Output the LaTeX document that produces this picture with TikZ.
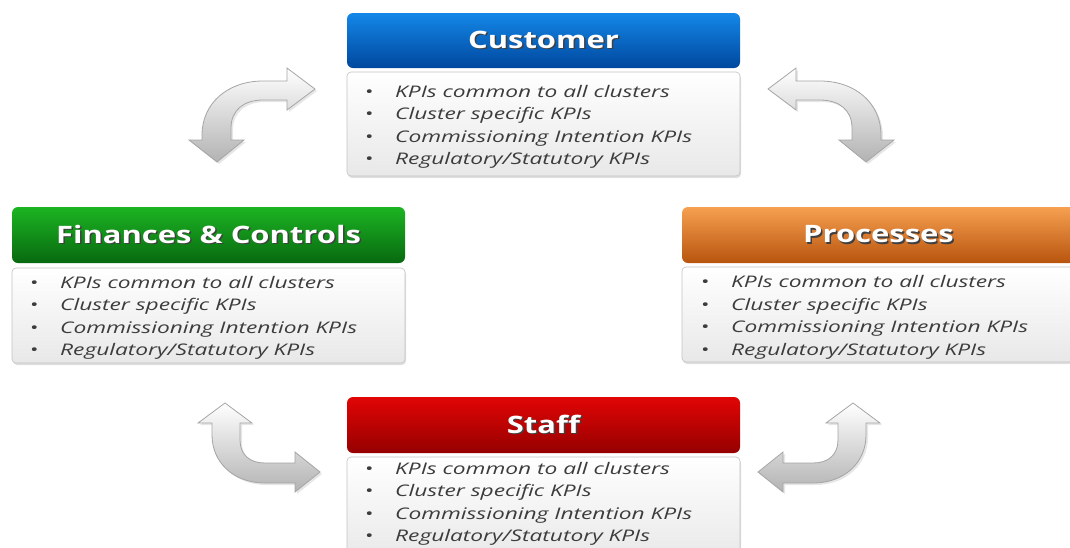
\documentclass[tikz,border=0pt]{standalone}
\usepackage{fontspec}
\setmainfont{Open Sans}[FakeStretch=1.42]
\newfontfamily\titlefont{Open Sans}[FakeStretch=1.29]
\usetikzlibrary{shadows}
\definecolor{blueT}{RGB}{20,135,232}
\definecolor{blueB}{RGB}{0,72,158}
\definecolor{greenT}{RGB}{28,180,34}
\definecolor{greenB}{RGB}{8,105,16}
\definecolor{orangeT}{RGB}{246,160,80}
\definecolor{orangeB}{RGB}{184,84,14}
\definecolor{redT}{RGB}{225,5,5}
\definecolor{redB}{RGB}{150,0,0}
\definecolor{txt}{RGB}{60,60,60}
\definecolor{bodyB}{RGB}{232,232,232}
\definecolor{bodyD}{RGB}{195,195,195}
\definecolor{arrD}{RGB}{165,165,165}
\newcommand{\tshadow}[1]{\raisebox{-2pt}{\rlap{\hspace{1.5pt}\raisebox{-1.5pt}{\textcolor{black!75}{#1}}}#1}}
\newcommand{\kpis}{%
\llap{\textbullet\hspace{22pt}}KPIs common to all clusters\\
\llap{\textbullet\hspace{22pt}}Cluster specific KPIs\\
\llap{\textbullet\hspace{22pt}}Commissioning Intention KPIs\\
\llap{\textbullet\hspace{22pt}}Regulatory/Statutory KPIs}
\newcommand{\toparrowpath}{(315,89) -- (287,68) -- (287,81) -- (263,81) .. controls (228,81) and (202,103) .. (202,135) -- (202,140) -- (189,140) -- (217,162) -- (244,140) -- (231,140) -- (231,128) .. controls (231,110) and (244,100) .. (263,100) -- (287,100) -- (287,110) -- cycle}
\newcommand{\botarrowpath}{(225,403) -- (252,423) -- (240,423) -- (240,440) .. controls (240,455) and (250,463) .. (265,463) -- (295,463) -- (295,452) -- (320,472) -- (295,492) -- (295,483) -- (265,483) .. controls (233,483) and (212,462) .. (212,435) -- (212,423) -- (198,423) -- cycle}
\tikzset{
  hdr/.style={rounded corners=6pt, minimum width=393pt, inner sep=0pt, text=white,
    font=\titlefont\bfseries\fontsize{24}{28}\selectfont},
  bodybox/.style={rounded corners=4pt, minimum width=393pt, inner sep=0pt, draw=bodyD, line width=0.6pt,
    top color=white, bottom color=bodyB,
    drop shadow={shadow xshift=1pt, shadow yshift=-2pt, opacity=0.25}},
  kpitext/.style={anchor=base west, align=left, inner sep=0pt, text=txt,
    font=\itshape\fontsize{16}{22.5}\selectfont},
  blockarrow/.style={draw=arrD, line width=0.8pt, top color=white, bottom color=black!30,
    drop shadow={shadow xshift=2pt, shadow yshift=-2pt, opacity=0.2}}
}
\begin{document}
\begin{tikzpicture}[x=1pt,y=-1pt]
\useasboundingbox (0,0) rectangle (1070,547);
% arrows
\path[blockarrow] \toparrowpath;
\begin{scope}[shift={(1083,0)}, xscale=-1]
\path[blockarrow] \toparrowpath;
\end{scope}
\path[blockarrow] \botarrowpath;
\begin{scope}[shift={(1078,0)}, xscale=-1]
\path[blockarrow] \botarrowpath;
\end{scope}
% Customer
\node[hdr, minimum height=55pt, top color=blueT, bottom color=blueB] (custH) at (543.5,40.5) {\tshadow{Customer}};
\node[bodybox, minimum height=104pt] (custB) at (543.5,124) {};
\node[kpitext] (custT) at (395,164.5) {\kpis};
% Finances
\node[hdr, minimum height=56pt, top color=greenT, bottom color=greenB] (finH) at (208.5,235) {\tshadow{Finances \& Controls}};
\node[bodybox, minimum height=95pt] (finB) at (208.5,315.5) {};
\node[kpitext] (finT) at (60,355.5) {\kpis};
% Processes
\node[hdr, minimum height=56pt, top color=orangeT, bottom color=orangeB] (procH) at (878.5,235) {\tshadow{Processes}};
\node[bodybox, minimum height=95pt] (procB) at (878.5,314.5) {};
\node[kpitext] (procT) at (731,355) {\kpis};
% Staff
\node[hdr, minimum height=56pt, top color=redT, bottom color=redB] (staffH) at (543.5,425) {\tshadow{Staff}};
\node[bodybox, minimum height=104pt] (staffB) at (543.5,509) {};
\node[kpitext] (staffT) at (395,541.5) {\kpis};
\end{tikzpicture}
\end{document}
